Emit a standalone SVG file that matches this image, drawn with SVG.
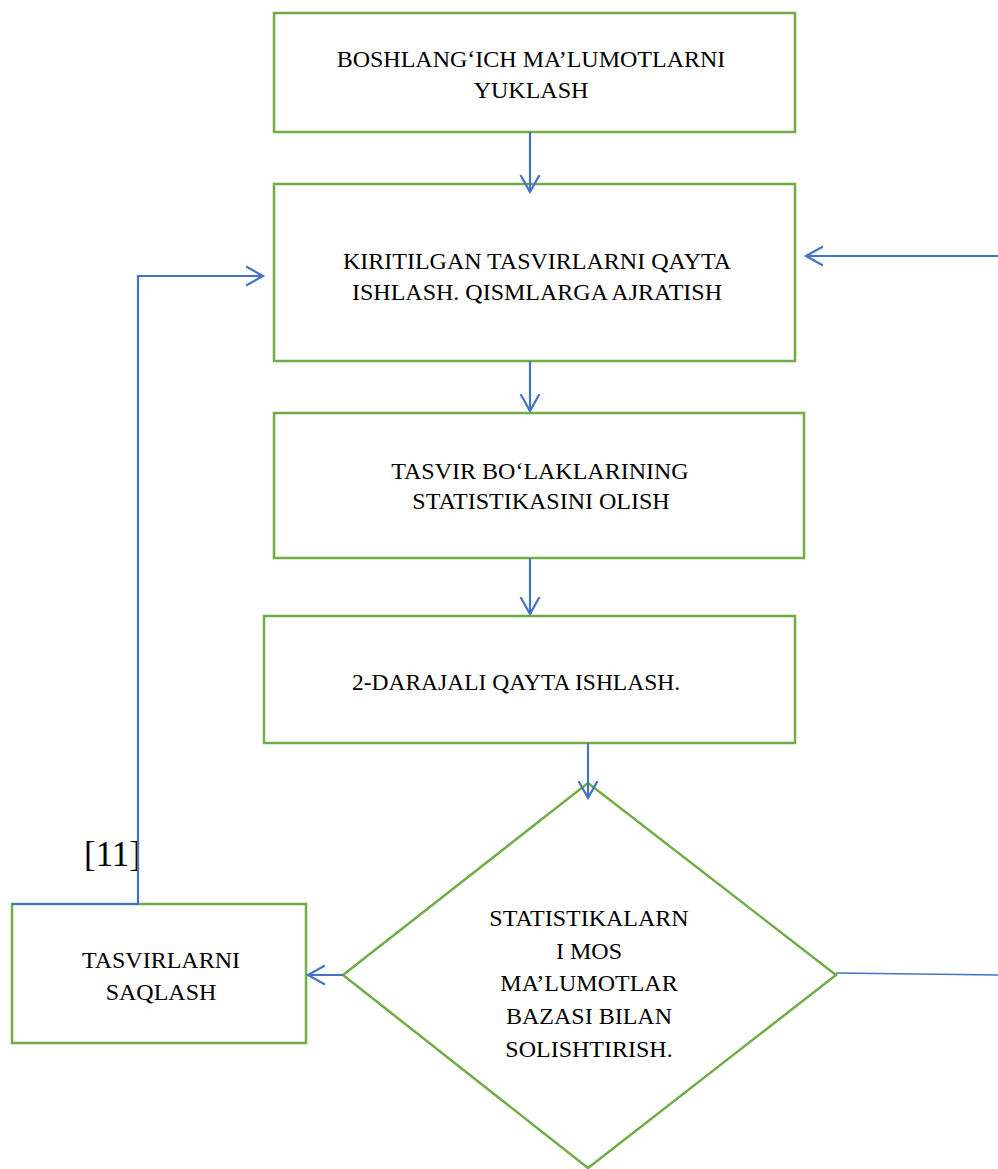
<svg xmlns="http://www.w3.org/2000/svg" width="998" height="1169" viewBox="0 0 998 1169">
<style>
.box{fill:#fff;stroke:#70AD47;stroke-width:2.5}
.t{fill:#000;text-anchor:middle}
.c{fill:none;stroke:#4472C4;stroke-width:2.2}
.thin{fill:none;stroke:#4472C4;stroke-width:1.3}
</style>
<defs>
<marker id="ah" markerUnits="userSpaceOnUse" markerWidth="24" markerHeight="24" refX="17" refY="12" orient="auto" viewBox="0 0 24 24">
<polyline points="0,2.5 17,12 0,21.5" fill="none" stroke="#4472C4" stroke-width="2.2"/>
</marker>
</defs>
<rect width="998" height="1169" fill="#fff"/>
<g font-family="'Liberation Serif', 'Times New Roman', serif" font-size="24">
<g id="n1"><rect class="box" x="274" y="13" width="521" height="119"/>
<text class="t" x="531" y="67">BOSHLANG‘ICH MA’LUMOTLARNI</text>
<text class="t" x="531" y="98">YUKLASH</text></g>
<g id="n2"><rect class="box" x="274" y="184" width="521" height="177"/>
<text class="t" x="537" y="269">KIRITILGAN TASVIRLARNI QAYTA</text>
<text class="t" x="537" y="300">ISHLASH. QISMLARGA AJRATISH</text></g>
<g id="n3"><rect class="box" x="274" y="413" width="530" height="145"/>
<text class="t" x="540" y="479">TASVIR BO‘LAKLARINING</text>
<text class="t" x="541" y="509">STATISTIKASINI OLISH</text></g>
<g id="n4"><rect class="box" x="264" y="616" width="531" height="127"/>
<text class="t" x="516" y="690" font-size="23.5">2-DARAJALI QAYTA ISHLASH.</text></g>
<g id="n5"><polygon class="box" points="588,783 836,975 588,1168 343,975"/>
<text class="t" x="589" y="926">STATISTIKALARN</text>
<text class="t" x="589" y="959">I MOS</text>
<text class="t" x="589" y="991">MA’LUMOTLAR</text>
<text class="t" x="589" y="1024">BAZASI BILAN</text>
<text class="t" x="589" y="1057">SOLISHTIRISH.</text></g>
<g id="n6"><rect class="box" x="12" y="904" width="294" height="139"/>
<text class="t" x="161" y="968">TASVIRLARNI</text>
<text class="t" x="161" y="1000">SAQLASH</text></g>
<text x="84" y="866" font-size="35">[11]</text>
</g>
<g id="connectors">
<line class="c" x1="530" y1="132" x2="530" y2="192" marker-end="url(#ah)"/>
<line class="c" x1="530" y1="361" x2="530" y2="411" marker-end="url(#ah)"/>
<line class="c" x1="530" y1="558" x2="530" y2="614" marker-end="url(#ah)"/>
<line class="c" x1="588" y1="743" x2="588" y2="798" marker-end="url(#ah)"/>
<line class="c" x1="998" y1="256" x2="806" y2="256" marker-end="url(#ah)"/>
<line class="c" x1="343" y1="975" x2="308" y2="975" marker-end="url(#ah)"/>
<polyline class="c" points="12,904 138,904 138,276 263,276" marker-end="url(#ah)"/>
<line class="thin" x1="836" y1="973" x2="998" y2="975"/>
</g>
</svg>
